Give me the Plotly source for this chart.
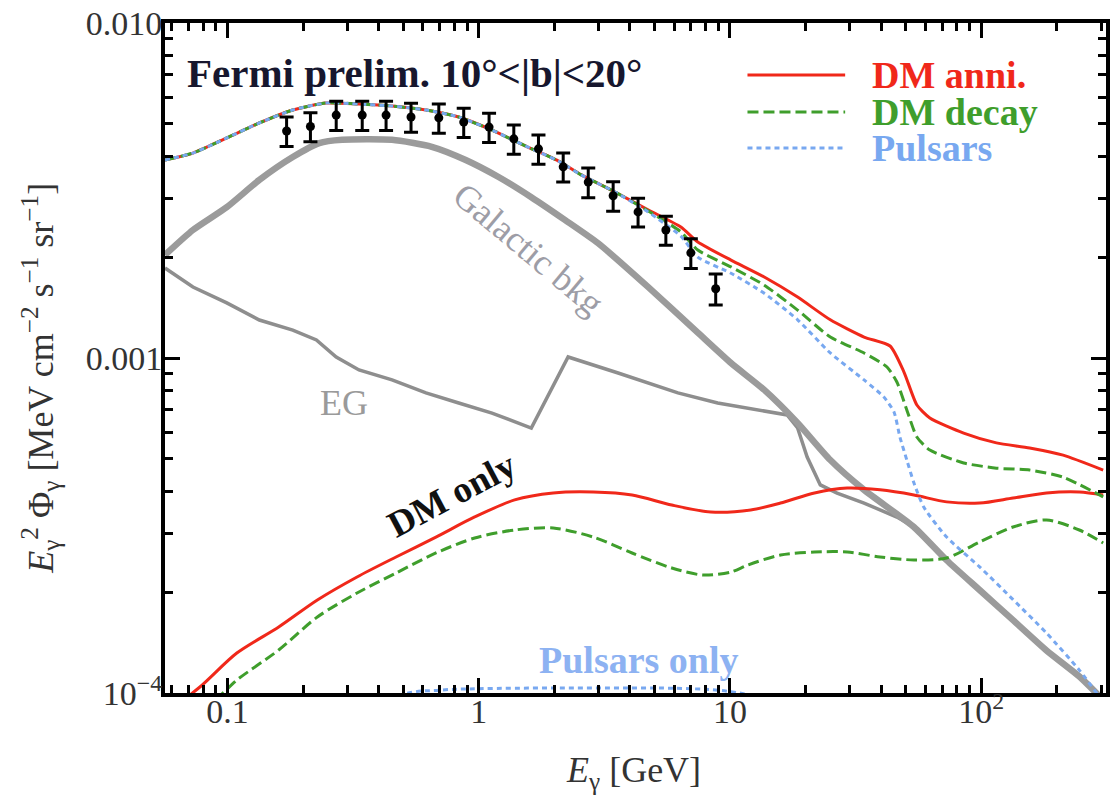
import plotly.graph_objects as go

# ---------------- data ----------------
# Fermi preliminary data points
pts_E = [0.172, 0.214, 0.271, 0.344, 0.428, 0.538, 0.694, 0.872, 1.10, 1.38, 1.73, 2.17,
         2.73, 3.43, 4.31, 5.56, 6.99, 8.78]
pts_F = [0.00476, 0.00491, 0.00531, 0.00531, 0.00531, 0.00524, 0.00521, 0.00506, 0.00489,
         0.00451, 0.00421, 0.00372, 0.00335, 0.00305, 0.00273, 0.00241, 0.00206, 0.00161]
pts_err = [0.00048, 0.00049, 0.00053, 0.00053, 0.00053, 0.00052, 0.00052, 0.00051, 0.00049,
           0.00045, 0.00042, 0.00037, 0.00034, 0.00031, 0.00027, 0.00024, 0.00021, 0.00017]

# Galactic background (thick gray)
gal_E = [0.0564, 0.0729, 0.0994, 0.134, 0.182, 0.232, 0.286, 0.452, 0.651, 0.888, 1.20, 1.62,
         2.21, 2.99, 4.72, 7.45, 10.1, 13.7, 18.6, 25.1, 34.2, 54.0, 72.9, 98.6, 134, 182, 246, 306]
gal_F = [0.00203, 0.00241, 0.00282, 0.00340, 0.00398, 0.00438, 0.00448, 0.00448, 0.00427,
         0.00390, 0.00347, 0.00302, 0.00258, 0.00220, 0.00163, 0.00119, 0.000966, 0.000803,
         0.00064, 0.000496, 0.000404, 0.000313, 0.000249, 0.000203, 0.000165, 0.000134,
         0.000112, 0.0000953]

# Extragalactic (thin gray)
eg_E = [0.0564, 0.0729, 0.0994, 0.134, 0.182, 0.226, 0.271, 0.334, 0.452, 0.617, 0.833, 1.13,
        1.62, 2.27, 3.59, 6.21, 8.94, 16.9, 18.6, 20.3, 22.9, 26.7, 34.2, 46.2, 54.0, 72.9,
        98.6, 134, 182, 246, 306]
eg_F = [0.001856, 0.001629, 0.00146, 0.001298, 0.001212, 0.001132, 0.001007, 0.000921,
        0.00086, 0.000787, 0.000734, 0.000685, 0.000618, 0.001007, 0.000902, 0.000787,
        0.000734, 0.000676, 0.000618, 0.000506, 0.000418, 0.000395, 0.000369, 0.000335,
        0.000313, 0.000249, 0.000203, 0.000165, 0.000134, 0.000112, 0.0000953]

# Total: DM annihilation (red solid)
anni_E = [0.0564, 0.0729, 0.0994, 0.134, 0.182, 0.247, 0.334, 0.452, 0.617, 0.833, 1.13, 1.54,
          2.08, 2.56, 3.49, 4.72, 6.38, 7.45, 10.1, 13.7, 18.6, 25.1, 34.2, 43.4, 49.3, 55.5,
          62.5, 85.2, 115, 156, 212, 306]
anni_F = [0.00390, 0.00409, 0.00454, 0.00503, 0.00550, 0.00577, 0.00573, 0.00565, 0.00550,
          0.00524, 0.00479, 0.00429, 0.00387, 0.00352, 0.00313, 0.00277, 0.00246, 0.00222,
          0.00196, 0.001745, 0.00152, 0.00130, 0.001155, 0.001086, 0.000908, 0.000724,
          0.000662, 0.000597, 0.000558, 0.000539, 0.000513, 0.000463]

# Total: DM decay (green dashed)
decay_E = [0.0564, 0.0729, 0.0994, 0.134, 0.182, 0.247, 0.334, 0.452, 0.617, 0.833, 1.13, 1.54,
           2.08, 2.56, 3.49, 4.72, 6.38, 7.45, 10.1, 13.7, 18.6, 25.1, 34.2, 42.2, 46.2, 50.6,
           55.5, 62.5, 85.2, 115, 156, 212, 306]
decay_F = [0.00390, 0.00409, 0.00454, 0.00503, 0.00550, 0.00577, 0.00573, 0.00565, 0.00550,
           0.00524, 0.00479, 0.00429, 0.00387, 0.00352, 0.00313, 0.00275, 0.00238, 0.00210,
           0.00187, 0.00165, 0.00139, 0.001155, 0.001035, 0.00094, 0.000848, 0.000700,
           0.000581, 0.000531, 0.000486, 0.000469, 0.000463, 0.000441, 0.000385]

# Total: pulsars (blue dotted)
psr_E = [0.0564, 0.0729, 0.0994, 0.134, 0.182, 0.247, 0.334, 0.452, 0.617, 0.833, 1.13, 1.54,
         2.08, 2.56, 3.49, 4.72, 6.38, 7.45, 10.1, 13.7, 18.6, 25.1, 34.2, 41.0, 45.0, 47.5,
         50.6, 54.0, 59.1, 72.9, 98.6, 134, 182, 246, 306]
psr_F = [0.00390, 0.00409, 0.00454, 0.00503, 0.00550, 0.00577, 0.00573, 0.00565, 0.00550,
         0.00524, 0.00479, 0.00429, 0.00387, 0.00352, 0.00313, 0.00273, 0.00231, 0.00200,
         0.00179, 0.00156, 0.00130, 0.001035, 0.00086, 0.000765, 0.00069, 0.000581,
         0.000496, 0.000424, 0.000359, 0.000292, 0.000238, 0.00019, 0.000151, 0.000117,
         0.000094]

# DM only (annihilation, red solid)
dmo_anni_E = [0.0564, 0.0777, 0.109, 0.160, 0.228, 0.328, 0.469, 0.676, 0.964, 1.39, 1.98,
              2.86, 4.08, 5.87, 8.39, 12.1, 15.9, 21.7, 29.3, 39.6, 54.0, 72.9, 98.6, 134,
              182, 246, 306]
dmo_anni_F = [0.0000866, 0.0001042, 0.0001316, 0.0001574, 0.0001895, 0.000222, 0.0002547,
              0.000292, 0.0003353, 0.000377, 0.0003954, 0.000398, 0.00039, 0.000364,
              0.000347, 0.000352, 0.000369, 0.0003954, 0.000409, 0.000404, 0.00039,
              0.000372, 0.000369, 0.000382, 0.0003954, 0.000398, 0.00039]

# DM only (decay, green dashed)
dmo_dec_E = [0.0564, 0.0923, 0.109, 0.160, 0.228, 0.328, 0.469, 0.676, 0.964, 1.39, 1.98,
             2.86, 4.08, 5.87, 7.80, 10.1, 11.8, 15.9, 21.7, 29.3, 39.6, 54.0, 72.9, 98.6,
             134, 182, 246, 306]
dmo_dec_F = [0.0000729, 0.0000973, 0.0001093, 0.0001344, 0.0001686, 0.0001988, 0.0002281,
             0.0002618, 0.0002902, 0.0003066, 0.0003109, 0.000292, 0.0002618, 0.0002361,
             0.000225, 0.0002297, 0.0002411, 0.0002582, 0.0002636, 0.0002636, 0.0002547,
             0.0002495, 0.0002529, 0.0002823, 0.000313, 0.0003284, 0.0003066, 0.0002804]

# Pulsars only (blue dotted, barely above the bottom)
pso_E = [0.2, 0.3, 0.5, 0.7, 1.0, 2.0, 4.0, 7.0, 10.0, 13.0, 20.0, 30.0]
pso_F = [0.000062, 0.00008, 0.000099, 0.000102, 0.000103, 0.0001035, 0.0001035, 0.000103,
         0.000101, 0.000097, 0.000085, 0.00007]

x_major = [0.1, 1, 10, 100]
x_major_text = ["0.1", "1", "10", "10<sup>2</sup>"]
x_minor = [0.06, 0.07, 0.08, 0.09, 0.2, 0.3, 0.4, 0.5, 0.6, 0.7, 0.8, 0.9,
           2, 3, 4, 5, 6, 7, 8, 9, 20, 30, 40, 50, 60, 70, 80, 90, 200, 300]
y_major = [1e-4, 1e-3, 1e-2]
y_major_text = ["10<sup>\u22124</sup>", "0.001", "0.010"]
y_minor = [2e-4, 3e-4, 4e-4, 5e-4, 6e-4, 7e-4, 8e-4, 9e-4,
           2e-3, 3e-3, 4e-3, 5e-3, 6e-3, 7e-3, 8e-3, 9e-3]

legend_labels = ["DM anni.", "DM decay", "Pulsars"]

# ---------------- styles ----------------
RED = "#f0281a"
GREEN = "#3f9e2c"
BLUE = "#78a8f0"
GRAY_THICK = "#9b9b9b"
GRAY_THIN = "#8e8e8e"
FONT = "Liberation Serif"

fig = go.Figure()

fig.add_trace(go.Scatter(x=eg_E, y=eg_F, mode="lines",
                         line=dict(color=GRAY_THIN, width=3.5), showlegend=False))
fig.add_trace(go.Scatter(x=gal_E, y=gal_F, mode="lines",
                         line=dict(color=GRAY_THICK, width=6.5, shape="spline", smoothing=0.6),
                         showlegend=False))

fig.add_trace(go.Scatter(x=pso_E, y=pso_F, mode="lines",
                         line=dict(color=BLUE, width=3, dash="5px,4px", shape="spline"),
                         showlegend=False))
fig.add_trace(go.Scatter(x=dmo_anni_E, y=dmo_anni_F, mode="lines",
                         line=dict(color=RED, width=3, shape="spline", smoothing=0.8),
                         showlegend=False))
fig.add_trace(go.Scatter(x=dmo_dec_E, y=dmo_dec_F, mode="lines",
                         line=dict(color=GREEN, width=3, dash="11px,5px", shape="spline",
                                   smoothing=0.8),
                         showlegend=False))

fig.add_trace(go.Scatter(x=anni_E, y=anni_F, mode="lines",
                         line=dict(color=RED, width=3, shape="spline", smoothing=0.6),
                         showlegend=False))
fig.add_trace(go.Scatter(x=decay_E, y=decay_F, mode="lines",
                         line=dict(color=GREEN, width=3, dash="11px,5px", shape="spline",
                                   smoothing=0.6),
                         showlegend=False))
fig.add_trace(go.Scatter(x=psr_E, y=psr_F, mode="lines",
                         line=dict(color=BLUE, width=3, dash="5px,4px", shape="spline",
                                   smoothing=0.6),
                         showlegend=False))

fig.add_trace(go.Scatter(x=pts_E, y=pts_F, mode="markers",
                         marker=dict(color="black", size=9, symbol="circle"),
                         error_y=dict(type="data", array=pts_err, color="black",
                                      thickness=3, width=7),
                         showlegend=False))

# ---------------- legend (drawn) ----------------
leg_colors = [RED, GREEN, BLUE]
leg_dash = ["solid", "11px,5px", "5px,4px"]
leg_y = [0.9224, 0.8672, 0.8134]
for lab, col, dsh, yy in zip(legend_labels, leg_colors, leg_dash, leg_y):
    fig.add_shape(type="line", xref="paper", yref="paper", x0=0.619, x1=0.7228, y0=yy, y1=yy,
                  line=dict(color=col, width=3, dash=dsh))
    fig.add_annotation(xref="paper", yref="paper", x=0.749, y=yy, xanchor="left",
                       yanchor="middle", text="<b>%s</b>" % lab, showarrow=False,
                       font=dict(family=FONT, size=38, color=col))

# ---------------- text labels ----------------
fig.add_annotation(xref="paper", yref="paper", x=0.0212, y=0.9254, xanchor="left",
                   yanchor="middle", showarrow=False,
                   text="<b>Fermi prelim. 10\u00b0<|b|<20\u00b0</b>",
                   font=dict(family=FONT, size=41, color="#17172e"))
fig.add_annotation(xref="paper", yref="paper", x=0.3862, y=0.6627, showarrow=False,
                   xanchor="center", yanchor="middle",
                   text="Galactic bkg", textangle=40,
                   font=dict(family=FONT, size=36, color="#9d9da6"))
fig.add_annotation(xref="paper", yref="paper", x=0.1905, y=0.4328, showarrow=False,
                   xanchor="center", yanchor="middle",
                   text="EG", font=dict(family=FONT, size=36, color="#9a9a9a"))
fig.add_annotation(xref="paper", yref="paper", x=0.3048, y=0.297, showarrow=False,
                   xanchor="center", yanchor="middle",
                   text="<b>DM only</b>", textangle=-28,
                   font=dict(family=FONT, size=37, color="#111111"))
fig.add_annotation(xref="paper", yref="paper", x=0.5037, y=0.0493, showarrow=False,
                   xanchor="center", yanchor="middle",
                   text="<b>Pulsars only</b>",
                   font=dict(family=FONT, size=38, color="#8db2f2"))

# axis titles
fig.add_annotation(xref="paper", yref="paper", x=0.498, y=-0.118, showarrow=False,
                   xanchor="center", yanchor="middle",
                   text="<i>E</i><sub>\u03b3</sub> [GeV]",
                   font=dict(family=FONT, size=36, color="#333333"))
fig.add_annotation(xref="paper", yref="paper", x=-0.132, y=0.4701, showarrow=False,
                   xanchor="center", yanchor="middle", textangle=-90,
                   text="<i>E</i><sub>\u03b3</sub><sup>2</sup> \u03a6<sub>\u03b3</sub> "
                        "[MeV cm<sup>\u22122</sup> s<sup>\u22121</sup> sr<sup>\u22121</sup>]",
                   font=dict(family=FONT, size=36, color="#333333"))

axis_common = dict(
    showline=True, linecolor="black", linewidth=4, mirror="allticks",
    ticks="inside", ticklen=15, tickwidth=3, tickcolor="black",
    showgrid=False, zeroline=False,
    tickfont=dict(family=FONT, size=34, color="#333333"),
)

fig.update_xaxes(type="log", range=[-1.2485, 2.497], tickmode="array",
                 tickvals=x_major, ticktext=x_major_text, ticklabelstandoff=-15,
                 minor=dict(tickmode="array", tickvals=x_minor, ticks="inside", ticklen=8,
                            tickwidth=3, tickcolor="black"),
                 **axis_common)
fig.update_yaxes(type="log", range=[-4, -2], tickmode="array",
                 tickvals=y_major, ticktext=y_major_text, ticklabelstandoff=-8,
                 minor=dict(tickmode="array", tickvals=y_minor, ticks="inside", ticklen=8,
                            tickwidth=3, tickcolor="black"),
                 **axis_common)

fig.update_layout(
    width=1110, height=796,
    margin=dict(l=165, r=0, t=23, b=103),
    paper_bgcolor="white", plot_bgcolor="white",
    showlegend=False,
    font=dict(family=FONT),
)

fig.write_html("out.html")
